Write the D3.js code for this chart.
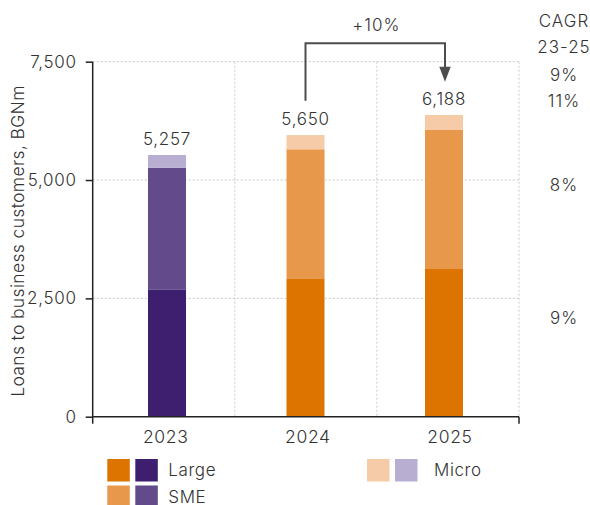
<!DOCTYPE html>
<html>
<head>
<meta charset="utf-8">
<script src="https://cdn.jsdelivr.net/npm/d3@7"></script>
<style>
  html, body { margin: 0; padding: 0; background: #fff; }
  svg { display: block; font-family: Inter, "Liberation Sans", Arial, sans-serif; font-weight: 300; }
</style>
</head>
<body>
<svg id="chart" width="590" height="505"></svg>
<script>
// Loans to business customers by segment, BGNm
const years = ["2023", "2024", "2025"];
const largeValues = [2680, 2910, 3120];
const smeValues = [2577, 2740, 2937];
const microValues = [272, 300, 317];
const totalLabels = ["5,257", "5,650", "6,188"];
const yTickValues = [0, 2500, 5000, 7500];
const segments = ["Large", "SME", "Micro"];
const orangeShades = ["#DE7400", "#E8984A", "#F5CCA7"];
const purpleShades = ["#3E1E6F", "#634A8B", "#B8AED2"];
const barPalette = ["purple", "orange", "orange"];
const cagrTitle = ["CAGR", "23-25"];
const cagrValues = ["9%", "11%", "8%", "9%"]; // total, Micro, SME, Large
const growthLabel = "+10%";

(function draw() {
  const svg = d3.select("#chart");
  const textColor = "#333";

  const plotLeft = 92.7, plotRight = 519, plotTop = 61.7, plotBottom = 416.7;

  const x = d3.scaleBand().domain(years).range([plotLeft, plotRight]).paddingInner(0).paddingOuter(0);
  const xBar = d3.scalePoint().domain(years).range([167, 444]);
  const barW = 38;
  const y = d3.scaleLinear().domain([0, 7500]).range([plotBottom, plotTop]);

  const label = (sel, size, spacing) => sel.attr("font-size", size).attr("letter-spacing", spacing).attr("fill", textColor);

  // gridlines
  const grid = svg.append("g").attr("stroke", "#c9c9c9").attr("stroke-width", 1).attr("stroke-dasharray", "2,2");
  yTickValues.filter(v => v > 0).forEach(v => {
    grid.append("line").attr("x1", plotLeft).attr("x2", plotRight).attr("y1", y(v)).attr("y2", y(v));
  });
  years.forEach(yr => {
    const gx = x(yr) + x.bandwidth();
    grid.append("line").attr("x1", gx).attr("x2", gx).attr("y1", plotTop).attr("y2", plotBottom);
  });

  // stacked bars
  const rows = years.map((yr, i) => ({ year: yr, Large: largeValues[i], SME: smeValues[i], Micro: microValues[i], palette: barPalette[i] }));
  const stacked = d3.stack().keys(segments)(rows);
  stacked.forEach((layer, k) => {
    svg.append("g").selectAll("rect").data(layer).join("rect")
      .attr("x", d => xBar(d.data.year) - barW / 2)
      .attr("width", barW)
      .attr("y", d => y(d[1]))
      .attr("height", d => y(d[0]) - y(d[1]))
      .attr("fill", d => (d.data.palette === "orange" ? orangeShades : purpleShades)[k]);
  });

  // value labels above the bars
  rows.forEach((r, i) => {
    const total = r.Large + r.SME + r.Micro;
    label(svg.append("text").attr("x", xBar(r.year)).attr("y", y(total) - 10)
      .attr("text-anchor", "middle"), 17, 0.7)
      .text(totalLabels[i]);
  });

  // y axis
  const yAxis = svg.append("g").attr("transform", `translate(${plotLeft},0)`)
    .call(d3.axisLeft(y).tickValues(yTickValues).tickSize(7).tickPadding(9).tickFormat(d3.format(",")));
  yAxis.attr("font-family", null);
  yAxis.select(".domain").remove();
  yAxis.selectAll("line").attr("stroke", "#222").attr("stroke-width", 1.5);
  label(yAxis.selectAll("text"), 17, 0.7);
  svg.append("line").attr("x1", plotLeft).attr("x2", plotLeft).attr("y1", plotTop).attr("y2", plotBottom + 7)
    .attr("stroke", "#222").attr("stroke-width", 1.5);

  // x axis
  const xAxis = svg.append("g").attr("transform", `translate(0,${plotBottom})`)
    .call(d3.axisBottom(x).tickSize(0).tickPadding(14));
  xAxis.attr("font-family", null);
  xAxis.select(".domain").attr("stroke", "#222").attr("stroke-width", 1.5).attr("d", `M${plotLeft},0H${plotRight}`);
  label(xAxis.selectAll("text"), 17.5, 0.7).attr("dx", 2);
  svg.append("line").attr("x1", plotRight).attr("x2", plotRight).attr("y1", plotBottom).attr("y2", plotBottom + 7)
    .attr("stroke", "#222").attr("stroke-width", 1.5);

  // y axis title
  label(svg.append("text").attr("transform", `translate(24,${(85 + 397) / 2}) rotate(-90)`)
    .attr("text-anchor", "middle"), 17.5, 0.35)
    .text("Loans to business customers, BGNm");

  // growth arrow 2024 -> 2025
  const ax1 = xBar("2024"), ax2 = xBar("2025") + 1;
  svg.append("path").attr("d", `M${ax1},100.7V43.3H${ax2}V68`)
    .attr("fill", "none").attr("stroke", "#4d4d4d").attr("stroke-width", 2);
  svg.append("path").attr("d", `M${ax2 - 5.7},66.7L${ax2 + 5.7},66.7L${ax2},81.7Z`).attr("fill", "#4d4d4d");
  label(svg.append("text").attr("x", (ax1 + ax2) / 2 + 1).attr("y", 30.7).attr("text-anchor", "middle"), 17, 1)
    .text(growthLabel);

  // CAGR column
  const cagrX = 564;
  [26.7, 53.3].forEach((by, i) => {
    label(svg.append("text").attr("x", cagrX).attr("y", by).attr("text-anchor", "middle"), 17, 1)
      .text(cagrTitle[i]);
  });
  [80.7, 106.7, 190.7, 324].forEach((by, i) => {
    label(svg.append("text").attr("x", cagrX).attr("y", by).attr("text-anchor", "middle"), 17, 1)
      .text(cagrValues[i]);
  });

  // legend
  const legendItems = [
    { label: "Large", k: 0, x: 107.3, y: 459 },
    { label: "SME", k: 1, x: 107.3, y: 485.5 },
    { label: "Micro", k: 2, x: 367, y: 459 }
  ];
  legendItems.forEach(it => {
    svg.append("rect").attr("x", it.x).attr("y", it.y).attr("width", 22.5).attr("height", 22.5).attr("fill", orangeShades[it.k]);
    svg.append("rect").attr("x", it.x + 28).attr("y", it.y).attr("width", 22.5).attr("height", 22.5).attr("fill", purpleShades[it.k]);
    label(svg.append("text").attr("x", it.x + (it.k === 2 ? 67 : 61)).attr("y", it.y + 17), 17, 0.6)
      .text(it.label);
  });
})();
</script>
</body>
</html>
